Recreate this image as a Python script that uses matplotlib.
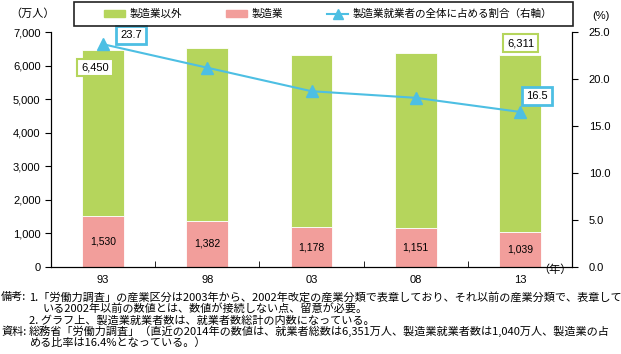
import matplotlib
matplotlib.use("Agg")
import matplotlib.pyplot as plt
import matplotlib.patches as mpatches
from matplotlib.lines import Line2D
import numpy as np

plt.rcParams['font.family'] = ['Liberation Sans', 'Noto Sans CJK JP', 'DejaVu Sans']

# data
years = ["93", "98", "03", "08", "13"]
manufacturing = [1530, 1382, 1178, 1151, 1039]
non_manufacturing = [4920, 5132, 5138, 5234, 5272]
share = [23.7, 21.2, 18.7, 18.0, 16.5]
totals = [6450, 6514, 6316, 6385, 6311]

legend_labels = ["製造業以外", "製造業", "製造業就業者の全体に占める割合（右軸）"]
notes = [
    (1, 297, "備考:"),
    (29, 297, "1.「労働力調査」の産業区分は2003年から、2002年改定の産業分類で表章しており、それ以前の産業分類で、表章して"),
    (43, 308.5, "いる2002年以前の数値とは、数値が接続しない点、留意が必要。"),
    (29, 320, "2. グラフ上、製造業就業者数は、就業者数総計の内数になっている。"),
    (1, 331.5, "資料:"),
    (29, 331.5, "総務省「労働力調査」（直近の2014年の数値は、就業者総数は6,351万人、製造業就業者数は1,040万人、製造業の占"),
    (29, 343, "める比率は16.4%となっている。）"),
]

green = "#b5d55c"
pink = "#f29e9b"
blue = "#4dbfe3"

W, H = 621, 354
fig = plt.figure(figsize=(W / 100, H / 100), dpi=100)
ax = fig.add_axes([51 / W, 1 - 267 / H, (572 - 51) / W, (267 - 32) / H])
ax2 = ax.twinx()

x = np.arange(len(years))
bw = 0.4
ax.bar(x, manufacturing, bw, color=pink, edgecolor="white", linewidth=0.6, zorder=2)
ax.bar(x, non_manufacturing, bw, bottom=manufacturing, color=green,
       edgecolor="white", linewidth=0.6, zorder=2)

for i, v in enumerate(manufacturing):
    ax.text(x[i], v / 2, f"{v:,}", ha="center", va="center", fontsize=7.5, zorder=3)

ax.set_xlim(-0.5, len(years) - 0.5)
ax.set_ylim(0, 7000)
ax.set_yticks(np.arange(0, 7001, 1000))
ax.set_yticklabels([f"{v:,}" for v in range(0, 7001, 1000)])
ax.set_xticks(x)
ax.set_xticklabels(years)
ax.set_xticks(np.arange(0.5, len(years) - 1, 1), minor=True)
ax.tick_params(axis="x", which="major", length=0, labelsize=8, pad=6)
ax.tick_params(axis="x", which="minor", direction="in", length=4)
ax.tick_params(axis="y", labelsize=8, length=4, direction="out")
ax.spines["top"].set_visible(False)

ax2.plot(x, share, color=blue, lw=1.5, marker="^", markersize=8, zorder=4)
ax2.set_ylim(0, 25)
ax2.set_yticks(np.arange(0, 25.1, 5))
ax2.set_yticklabels([f"{v:.1f}" for v in np.arange(0, 25.1, 5)])
ax2.tick_params(axis="y", labelsize=8, length=4, direction="out", pad=8)
ax2.spines["top"].set_visible(False)
ax2.set_zorder(ax.get_zorder() + 1)
ax2.patch.set_visible(False)

# callout boxes
ax.annotate(f"{totals[0]:,}", (x[0], totals[0]), xytext=(-8, -17), textcoords="offset pixels",
            ha="center", va="center", fontsize=8, zorder=5,
            bbox=dict(boxstyle="square,pad=0.35", fc="white", ec=green, lw=1.5))
ax.annotate(f"{totals[-1]:,}", (x[-1], totals[-1]), xytext=(1, 12), textcoords="offset pixels",
            ha="center", va="center", fontsize=8, zorder=5,
            bbox=dict(boxstyle="square,pad=0.35", fc="white", ec=green, lw=1.5))
ax2.annotate(f"{share[0]}", (x[0], share[0]), xytext=(28, 9), textcoords="offset pixels",
             ha="center", va="center", fontsize=8, zorder=5,
             bbox=dict(boxstyle="square,pad=0.35", fc="white", ec=blue, lw=2))
ax2.annotate(f"{share[-1]}", (x[-1], share[-1]), xytext=(17, 16), textcoords="offset pixels",
             ha="center", va="center", fontsize=8, zorder=5,
             bbox=dict(boxstyle="square,pad=0.35", fc="white", ec=blue, lw=2))

# axis unit labels
fig.text(10 / W, 1 - 14 / H, "（万人）", fontsize=8, ha="left", va="center")
fig.text(601 / W, 1 - 16 / H, "(%)", fontsize=8, ha="center", va="center")
fig.text(555 / W, 1 - 270 / H, "（年）", fontsize=8, ha="center", va="center")

# legend
handles = [
    mpatches.Patch(color=green),
    mpatches.Patch(color=pink),
    Line2D([0], [0], color=blue, lw=1.5, marker="^", markersize=7),
]
fig.legend(handles, legend_labels, ncol=3, frameon=False, fontsize=7.6,
           loc="center left", bbox_to_anchor=(104 / W, 1 - 14 / H),
           handlelength=2.0, handleheight=0.6, columnspacing=4.2, handletextpad=0.4,
           borderaxespad=0, borderpad=0)
fig.patches.append(mpatches.Rectangle((74 / W, 1 - 26 / H), (573 - 74) / W, 24 / H,
                                      transform=fig.transFigure, fill=False,
                                      ec="#222222", lw=1.2))

for px, py, s in notes:
    fig.text(px / W, 1 - py / H, s, fontsize=8.0, ha="left", va="center",
             family=["Noto Sans CJK JP", "DejaVu Sans"])

fig.savefig("out.png", dpi=100)
